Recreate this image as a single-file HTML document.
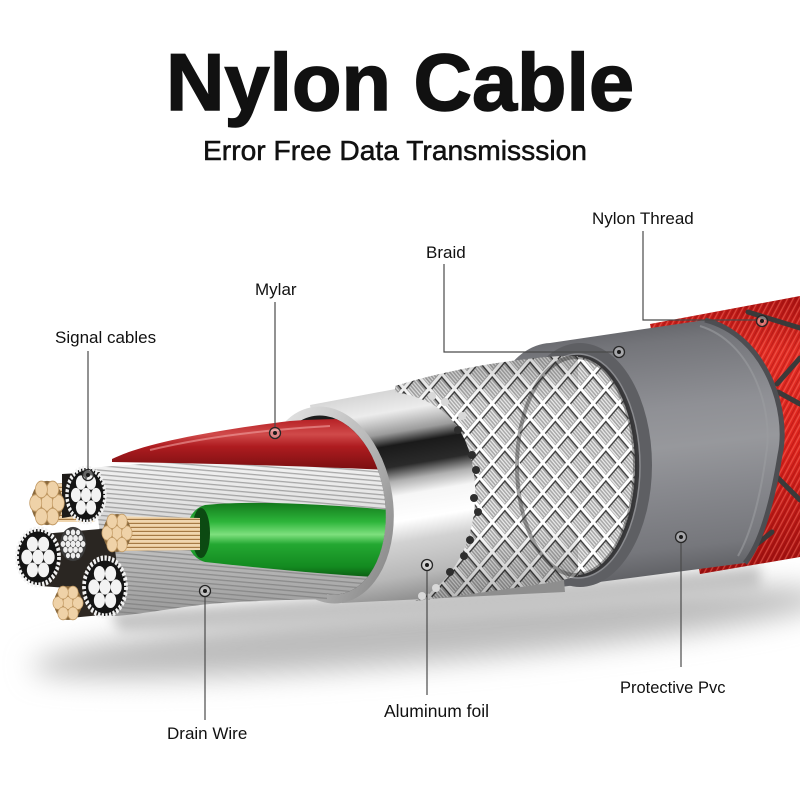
<!DOCTYPE html>
<html><head><meta charset="utf-8">
<style>
html,body{margin:0;padding:0;background:#fff;}
svg{display:block;}
text{font-family:"Liberation Sans",Arial,sans-serif;fill:#111;}
</style></head><body>
<svg width="800" height="800" viewBox="0 0 800 800" xmlns="http://www.w3.org/2000/svg" xmlns:xlink="http://www.w3.org/1999/xlink">
<defs>
  <filter id="blur" x="-20%" y="-80%" width="140%" height="260%"><feGaussianBlur stdDeviation="14"/></filter>
  <filter id="blur6" x="-20%" y="-80%" width="140%" height="260%"><feGaussianBlur stdDeviation="6"/></filter>

  <linearGradient id="pvcG" gradientUnits="userSpaceOnUse" x1="600" y1="322" x2="630" y2="585">
    <stop offset="0" stop-color="#5f6065"/>
    <stop offset="0.1" stop-color="#74757a"/>
    <stop offset="0.35" stop-color="#8f9095"/>
    <stop offset="0.5" stop-color="#97989c"/>
    <stop offset="0.65" stop-color="#898a8f"/>
    <stop offset="0.88" stop-color="#76777c"/>
    <stop offset="1" stop-color="#5c5d61"/>
  </linearGradient>

  <linearGradient id="foilG" gradientUnits="userSpaceOnUse" x1="380" y1="392" x2="415" y2="600">
    <stop offset="0" stop-color="#d6d6d6"/>
    <stop offset="0.1" stop-color="#ececec"/>
    <stop offset="0.2" stop-color="#9c9c9c"/>
    <stop offset="0.26" stop-color="#1a1a1a"/>
    <stop offset="0.36" stop-color="#2a2a2a"/>
    <stop offset="0.43" stop-color="#b0b0b0"/>
    <stop offset="0.5" stop-color="#f6f6f6"/>
    <stop offset="0.62" stop-color="#ffffff"/>
    <stop offset="0.72" stop-color="#d2d2d2"/>
    <stop offset="0.88" stop-color="#b8b8b8"/>
    <stop offset="1" stop-color="#8e8e8e"/>
  </linearGradient>

  <linearGradient id="rimG" x1="0" y1="0" x2="1" y2="1">
    <stop offset="0" stop-color="#f0f0f0"/>
    <stop offset="0.5" stop-color="#bdbdbd"/>
    <stop offset="1" stop-color="#7d7d7d"/>
  </linearGradient>

  <linearGradient id="redG" gradientUnits="userSpaceOnUse" x1="0" y1="295" x2="0" y2="575">
    <stop offset="0" stop-color="#a81010"/>
    <stop offset="0.2" stop-color="#e02a22"/>
    <stop offset="0.55" stop-color="#dc221c"/>
    <stop offset="1" stop-color="#9a0e0e"/>
  </linearGradient>

  <linearGradient id="redWire" gradientUnits="userSpaceOnUse" x1="0" y1="420" x2="0" y2="468">
    <stop offset="0" stop-color="#b82428"/>
    <stop offset="0.3" stop-color="#d04a4a"/>
    <stop offset="0.55" stop-color="#ae1c20"/>
    <stop offset="1" stop-color="#7e1012"/>
  </linearGradient>

  <linearGradient id="greenG" gradientUnits="userSpaceOnUse" x1="0" y1="503" x2="0" y2="578">
    <stop offset="0" stop-color="#137a1c"/>
    <stop offset="0.25" stop-color="#2db53a"/>
    <stop offset="0.42" stop-color="#7ee07e"/>
    <stop offset="0.55" stop-color="#24a832"/>
    <stop offset="0.85" stop-color="#138a20"/>
    <stop offset="1" stop-color="#0b5a12"/>
  </linearGradient>

  <linearGradient id="strandG" gradientUnits="userSpaceOnUse" x1="0" y1="458" x2="0" y2="616">
    <stop offset="0" stop-color="#f4f4f4"/>
    <stop offset="0.3" stop-color="#e2e2e2"/>
    <stop offset="0.6" stop-color="#bdbdbd"/>
    <stop offset="1" stop-color="#9a9a9a"/>
  </linearGradient>

  <linearGradient id="braidShade" gradientUnits="userSpaceOnUse" x1="480" y1="355" x2="490" y2="602">
    <stop offset="0" stop-color="#000" stop-opacity="0.2"/>
    <stop offset="0.2" stop-color="#000" stop-opacity="0"/>
    <stop offset="0.7" stop-color="#000" stop-opacity="0"/>
    <stop offset="1" stop-color="#000" stop-opacity="0.3"/>
  </linearGradient>

  <pattern id="braidPat" width="21" height="21" patternUnits="userSpaceOnUse" patternTransform="scale(0.85 1) rotate(45)">
    <rect width="21" height="21" fill="#a6a6a6"/>
    <path d="M5,7.5 H20 M5,10.5 H20 M5,13.5 H20 M5,16.5 H20 M5,19.5 H20" stroke="#eeeeee" stroke-width="1.3"/>
    <rect x="0" y="0" width="21" height="3.5" fill="#ffffff"/>
    <rect x="0" y="0" width="3.5" height="21" fill="#ffffff"/>
    <rect x="3.5" y="3.5" width="17.5" height="1.2" fill="#2a2a2a"/>
    <rect x="3.5" y="3.5" width="1.2" height="17.5" fill="#2a2a2a"/>
  </pattern>

  <pattern id="fiber" width="5" height="5" patternUnits="userSpaceOnUse" patternTransform="rotate(-62)">
    <rect width="5" height="1.3" fill="#ff7a6a" opacity="0.45"/>
    <rect y="3" width="5" height="0.8" fill="#7a0a0a" opacity="0.35"/>
  </pattern>

  <pattern id="strandPat" width="60" height="4.5" patternUnits="userSpaceOnUse" patternTransform="rotate(5)">
    <rect width="60" height="1.3" fill="#6f6f6f" opacity="0.55"/>
  </pattern>

  <pattern id="goldPat" width="40" height="4" patternUnits="userSpaceOnUse">
    <rect width="40" height="4" fill="#e6c596"/>
    <rect y="3" width="40" height="1" fill="#a57a45"/>
    <rect y="0.5" width="40" height="1" fill="#fbe8c8"/>
  </pattern>

  <clipPath id="wclip">
    <rect x="0" y="380" width="327" height="260"/>
    <ellipse cx="327" cy="505" rx="58" ry="90" transform="rotate(-8 327 505)"/>
  </clipPath>

  <g id="wend">
    <circle r="20" fill="#141414" stroke="#f2f2f2" stroke-width="3.6" stroke-dasharray="2.2 1.4"/>
    <g fill="#f3f3f3">
      <circle r="5.3"/><circle cx="10.6" r="5.3"/><circle cx="-10.6" r="5.3"/>
      <circle cx="5.3" cy="9.2" r="5.3"/><circle cx="-5.3" cy="9.2" r="5.3"/>
      <circle cx="5.3" cy="-9.2" r="5.3"/><circle cx="-5.3" cy="-9.2" r="5.3"/>
    </g>
  </g>
  <g id="gend">
    <circle r="17" fill="#8a6a3e"/>
    <g fill="#efd2a8" stroke="#c29a64" stroke-width="0.8">
      <circle r="6.4"/><circle cx="12" r="6.4"/><circle cx="-12" r="6.4"/>
      <circle cx="6" cy="10.4" r="6.4"/><circle cx="-6" cy="10.4" r="6.4"/>
      <circle cx="6" cy="-10.4" r="6.4"/><circle cx="-6" cy="-10.4" r="6.4"/>
    </g>
  </g>
  <g id="send">
    <circle r="19" fill="#3c3c3c"/>
    <g fill="#eeeeee">
      <circle r="3.6"/><circle cx="7.4" r="3.6"/><circle cx="-7.4" r="3.6"/>
      <circle cx="3.7" cy="6.4" r="3.6"/><circle cx="-3.7" cy="6.4" r="3.6"/>
      <circle cx="3.7" cy="-6.4" r="3.6"/><circle cx="-3.7" cy="-6.4" r="3.6"/>
      <circle cx="14.8" r="3.4"/><circle cx="-14.8" r="3.4"/>
      <circle cx="11.1" cy="6.4" r="3.4"/><circle cx="-11.1" cy="6.4" r="3.4"/>
      <circle cx="11.1" cy="-6.4" r="3.4"/><circle cx="-11.1" cy="-6.4" r="3.4"/>
      <circle cy="12.8" r="3.4"/><circle cy="-12.8" r="3.4"/>
      <circle cx="7.4" cy="12.8" r="3"/><circle cx="-7.4" cy="12.8" r="3"/>
      <circle cx="7.4" cy="-12.8" r="3"/><circle cx="-7.4" cy="-12.8" r="3"/>
    </g>
  </g>
  <g id="mk">
    <circle r="5.5" fill="#ffffff" fill-opacity="0.35" stroke="#262626" stroke-width="1.3"/>
    <circle r="2" fill="#1a1a1a"/>
  </g>
</defs>

<rect width="800" height="800" fill="#ffffff"/>

<!-- Title -->
<text x="400" y="110" text-anchor="middle" font-size="81" font-weight="bold" stroke="#111" stroke-width="1.5">Nylon Cable</text>
<text x="395" y="160" text-anchor="middle" font-size="28" stroke="#111" stroke-width="0.5" textLength="384" lengthAdjust="spacingAndGlyphs">Error Free Data Transmisssion</text>

<!-- Shadow -->
<ellipse cx="430" cy="632" rx="400" ry="30" transform="rotate(-5 430 632)" fill="#bcbcbc" filter="url(#blur)"/>
<path d="M110,612 C300,600 550,588 760,566 L760,590 C550,612 300,628 120,632 Z" fill="#c4c4c4" filter="url(#blur6)"/>

<!-- Red nylon braid -->
<path d="M650,324 L800,296 L800,557 L700,574 Z" fill="url(#redG)"/>
<path d="M650,324 L800,296 L800,557 L700,574 Z" fill="url(#fiber)"/>
<g stroke="#3a3a3a" stroke-width="5" stroke-linecap="round" fill="none">
  <path d="M748,312 L800,328"/>
  <path d="M777,384 L800,358"/>
  <path d="M778,392 L800,404"/>
  <path d="M752,548 L772,532"/>
  <path d="M770,470 L800,500"/>
</g>

<!-- PVC jacket -->
<path d="M550,343 L705,320 C765,335 790,410 780,455 C772,505 760,545 745,563 L553,588 A72 122 0 0 1 550,343 Z" fill="url(#pvcG)"/>
<path d="M705,320 C765,335 790,410 780,455 C772,505 760,545 745,563" fill="none" stroke="#4d4e52" stroke-width="5"/>
<path d="M700,326 C752,342 774,410 766,455 C760,500 750,535 738,556" fill="none" stroke="#9b9ca0" stroke-width="2" opacity="0.6"/>
<!-- PVC face rim -->
<ellipse cx="580" cy="465" rx="72" ry="122" fill="#5e5f63"/>
<ellipse cx="578" cy="466" rx="62" ry="112" fill="#3a3a3c"/>
<ellipse cx="578" cy="466" rx="62" ry="112" fill="none" stroke="#8a8b8f" stroke-width="1.5"/>

<!-- Foil body -->
<path d="M310,405 L545,361 L565,592 L342,603 Z" fill="url(#foilG)"/>

<!-- Braid -->
<ellipse cx="576" cy="466" rx="59" ry="109" fill="url(#braidPat)"/>
<path d="M395,386 C440,372 500,360 560,356 L578,356 L578,576 L555,582 C500,590 450,597 415,601 C452,585 478,540 475,485 C472,430 445,400 395,392 Z" fill="url(#braidPat)"/>
<path d="M395,386 C440,372 500,360 560,356 L578,356 L578,576 L555,582 C500,590 450,597 415,601 C452,585 478,540 475,485 C472,430 445,400 395,392 Z" fill="url(#braidShade)"/>
<ellipse cx="576" cy="466" rx="59" ry="109" fill="none" stroke="#333" stroke-width="4" opacity="0.45"/>
<!-- cut strand ends -->
<g fill="#2e2e2e">
  <circle cx="472" cy="455" r="4"/><circle cx="476" cy="470" r="4"/><circle cx="474" cy="498" r="4"/>
  <circle cx="478" cy="512" r="4"/><circle cx="470" cy="540" r="4"/><circle cx="464" cy="556" r="4"/>
  <circle cx="458" cy="430" r="4"/><circle cx="450" cy="572" r="4"/>
</g>
<g fill="#d8d8d8">
  <circle cx="432" cy="396" r="4"/><circle cx="445" cy="402" r="4"/><circle cx="462" cy="416" r="4"/>
  <circle cx="436" cy="588" r="4"/><circle cx="422" cy="596" r="4"/>
</g>

<!-- Foil face rim -->
<ellipse cx="327" cy="505" rx="66" ry="99" transform="rotate(-8 327 505)" fill="url(#rimG)"/>
<ellipse cx="327" cy="505" rx="58" ry="90" transform="rotate(-8 327 505)" fill="#1c1c1c"/>

<!-- Wires (clipped) -->
<g clip-path="url(#wclip)">
  <path d="M92,468 C150,462 250,458 392,458 L392,600 C330,598 250,600 200,605 C160,610 130,616 110,616 Z" fill="url(#strandG)"/>
  <path d="M92,468 C150,462 250,458 392,458 L392,600 C330,598 250,600 200,605 C160,610 130,616 110,616 Z" fill="url(#strandPat)"/>
  <path d="M112,459 C140,445 200,432 290,421 C330,418 370,419 392,420 L392,470 C300,466 200,463 112,462 Z" fill="url(#redWire)"/>
  <path d="M150,450 C200,438 260,430 330,426" fill="none" stroke="#f0a0a0" stroke-width="2" opacity="0.6"/>
  <path d="M205,505 C260,500 330,505 392,510 L392,578 C330,575 260,568 205,562 C180,555 180,512 205,505 Z" fill="url(#greenG)"/>
  <ellipse cx="201" cy="533" rx="9" ry="25" fill="#0c4a12"/>
  <path d="M117,516 L200,518 L200,550 L117,551 Z" fill="url(#goldPat)"/>
  <path d="M47,484 L95,482 L95,522 L47,522 Z" fill="url(#goldPat)"/>
  <path d="M30,535 L112,528 L118,572 L96,590 L40,586 Z" fill="#2a2622"/>
  <path d="M68,590 L110,584 L112,614 L70,618 Z" fill="#2e2822"/>
  <path d="M62,474 L100,472 L100,512 L62,518 Z" fill="#1e1b18"/>
</g>

<!-- cable ends -->
<use xlink:href="#gend" transform="translate(47 503) scale(0.94 1.3)"/>
<use xlink:href="#wend" transform="translate(86 495) scale(0.95 1.35)"/>
<use xlink:href="#gend" transform="translate(117 533) scale(0.82 1.12)"/>
<use xlink:href="#send" transform="translate(73 544) scale(0.68 0.9)"/>
<use xlink:href="#wend" transform="translate(38 557) scale(1.05 1.4)"/>
<use xlink:href="#gend" transform="translate(68 603) scale(0.82 1.0)"/>
<use xlink:href="#wend" transform="translate(105 587) scale(1.05 1.45)"/>

<!-- Leader lines -->
<g stroke="#4a4a4a" stroke-width="1.2" fill="none">
  <path d="M88,351 V469"/>
  <path d="M275,302 V427"/>
  <path d="M444,264 V352 H613"/>
  <path d="M643,231 V320 H756"/>
  <path d="M205,597 V720"/>
  <path d="M427,571 V695"/>
  <path d="M681,543 V667"/>
</g>
<use xlink:href="#mk" transform="translate(88 475)"/>
<use xlink:href="#mk" transform="translate(275 433)"/>
<use xlink:href="#mk" transform="translate(619 352)"/>
<use xlink:href="#mk" transform="translate(762 321)"/>
<use xlink:href="#mk" transform="translate(205 591)"/>
<use xlink:href="#mk" transform="translate(427 565)"/>
<use xlink:href="#mk" transform="translate(681 537)"/>

<!-- Labels -->
<text x="55" y="343" font-size="17">Signal cables</text>
<text x="255" y="295" font-size="17">Mylar</text>
<text x="426" y="258" font-size="17">Braid</text>
<text x="592" y="224" font-size="17">Nylon Thread</text>
<text x="167" y="739" font-size="17">Drain Wire</text>
<text x="384" y="717" font-size="17.5">Aluminum foil</text>
<text x="620" y="693" font-size="16.5">Protective Pvc</text>
</svg>
</body></html>
